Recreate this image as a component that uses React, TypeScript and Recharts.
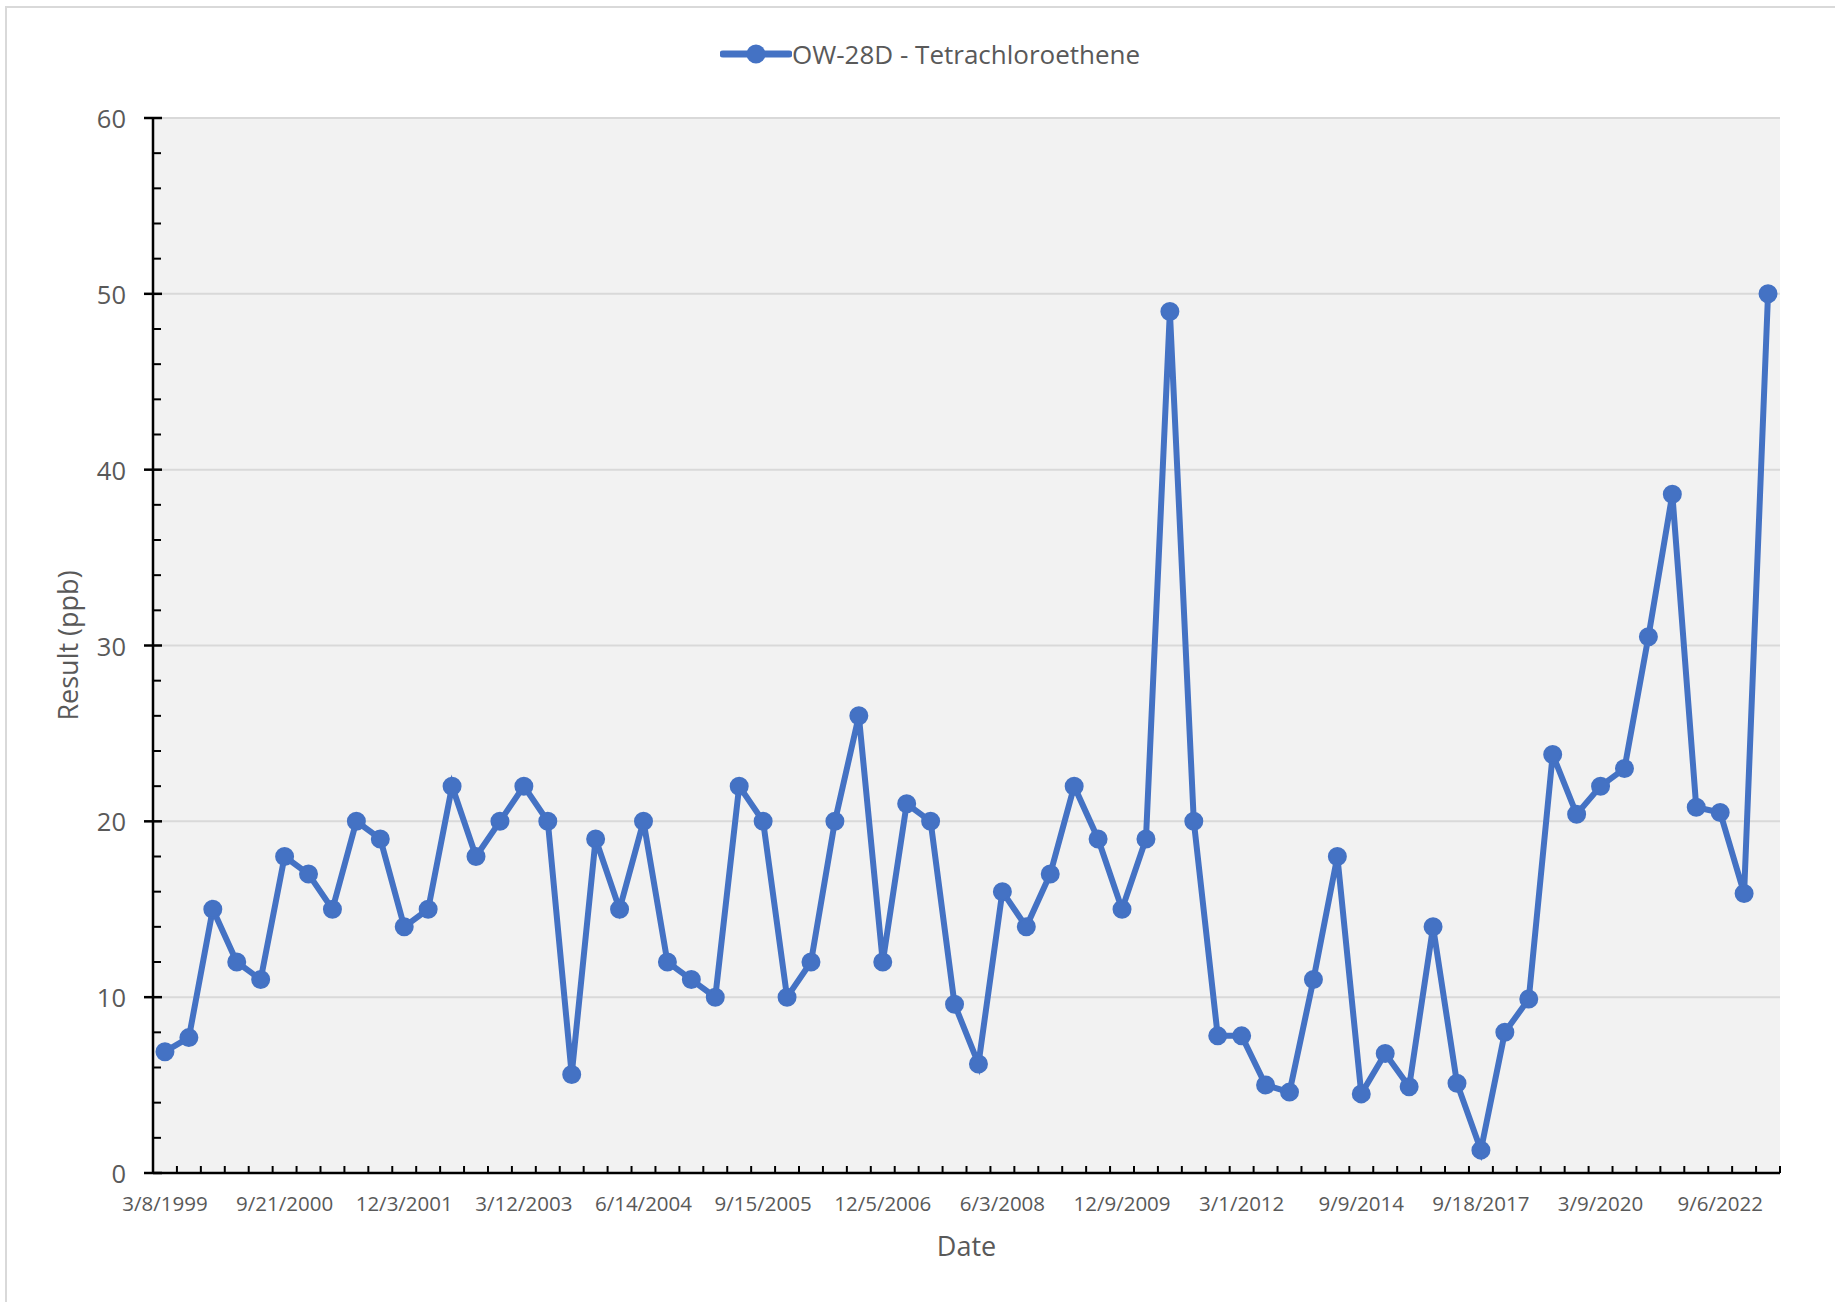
import React from 'react';
import { LineChart, Line, XAxis, YAxis, CartesianGrid, Legend } from 'recharts';

const seriesName = 'OW-28D - Tetrachloroethene';
const results = [
  6.9, 7.7, 15, 12, 11, 18, 17, 15, 20, 19,
  14, 15, 22, 18, 20, 22, 20, 5.6, 19, 15,
  20, 12, 11, 10, 22, 20, 10, 12, 20, 26,
  12, 21, 20, 9.6, 6.2, 16, 14, 17, 22, 19,
  15, 19, 49, 20, 7.8, 7.8, 5.0, 4.6, 11, 18,
  4.5, 6.8, 4.9, 14, 5.1, 1.3, 8.0, 9.9, 23.8, 20.4,
  22, 23, 30.5, 38.6, 20.8, 20.5, 15.9, 50,
];
const tickLabels = [
  '3/8/1999', '9/21/2000', '12/3/2001', '3/12/2003', '6/14/2004', '9/15/2005', '12/5/2006',
  '6/3/2008', '12/9/2009', '3/1/2012', '9/9/2014', '9/18/2017', '3/9/2020', '9/6/2022',
];
const labelEvery = 5;
const yTicks = [0, 2, 4, 6, 8, 10, 12, 14, 16, 18, 20, 22, 24, 26, 28, 30, 32, 34, 36, 38, 40, 42, 44, 46, 48, 50, 52, 54, 56, 58, 60];
const gridValues = [10, 20, 30, 40, 50, 60];

const data = results.map((v, i) => ({ idx: i, result: v }));

const FONT = '"Open Sans", sans-serif';
const TEXT = '#595959';
const BLUE = '#4472C4';
const W = 1835;
const H = 1302;
const PLOT_W = 1627;
const HALF = PLOT_W / results.length / 2;

const XTick = (props: any) => {
  const { x, y, payload } = props;
  const i = payload.value as number;
  return (
    <g>
      <line x1={x - HALF} x2={x - HALF} y1={y} y2={y - 7} stroke="#000" strokeWidth={2} />
      {i === results.length - 1 && (
        <line x1={x + HALF} x2={x + HALF} y1={y} y2={y - 7} stroke="#000" strokeWidth={2} />
      )}
      {i % labelEvery === 0 && (
        <text x={x} y={y + 30} textAnchor="middle" dominantBaseline="central" fontFamily={FONT} fontSize={20.5} fill={TEXT}>
          {tickLabels[i / labelEvery]}
        </text>
      )}
    </g>
  );
};

const YTick = (props: any) => {
  const { x, y, payload } = props;
  const v = payload.value as number;
  const major = v % 10 === 0;
  return (
    <g>
      {major ? (
        <line x1={x - 9} x2={x + 9} y1={y} y2={y} stroke="#000" strokeWidth={2.5} />
      ) : (
        <line x1={x} x2={x + 8} y1={y} y2={y} stroke="#000" strokeWidth={2} />
      )}
      {major && (
        <text x={x - 27} y={y} textAnchor="end" dominantBaseline="central" fontFamily={FONT} fontSize={25.5} fill={TEXT}>
          {v}
        </text>
      )}
    </g>
  );
};

const LegendContent = (props: any) => {
  const item = props.payload && props.payload[0];
  const name = item ? item.value : seriesName;
  return (
    <div style={{ display: 'flex', alignItems: 'center', whiteSpace: 'nowrap' }}>
      <svg width={72} height={24} style={{ display: 'block' }}>
        <line x1={3} x2={69} y1={12} y2={12} stroke={BLUE} strokeWidth={7} strokeLinecap="round" />
        <circle cx={36} cy={12} r={9.5} fill={BLUE} />
      </svg>
      <span style={{ fontFamily: FONT, fontSize: 26, color: TEXT, lineHeight: '36px' }}>{name}</span>
    </div>
  );
};

export default function App() {
  return (
    <div>
      <div
        style={{
          position: 'absolute',
          left: 5,
          top: 6,
          width: 1830,
          height: 1296,
          boxSizing: 'border-box',
          borderTop: '2px solid #d9d9d9',
          borderLeft: '2px solid #d9d9d9',
          background: '#fff',
        }}
      />
      <div style={{ position: 'absolute', left: 0, top: 0, width: W, height: H }}>
        <LineChart width={W} height={H} data={data} margin={{ top: 118, right: 55, bottom: 69, left: 33 }}>
          <CartesianGrid
            vertical={false}
            horizontalValues={gridValues}
            fill="#f2f2f2"
            stroke="#d9d9d9"
            strokeWidth={2}
          />
          <XAxis
            dataKey="idx"
            type="category"
            height={60}
            interval={0}
            padding={{ left: HALF, right: HALF }}
            tickSize={0}
            tickMargin={0}
            tickLine={false}
            tick={<XTick />}
            axisLine={{ stroke: '#000', strokeWidth: 2.5 }}
            label={{ value: 'Date', position: 'bottom', offset: 4, style: { fontFamily: FONT, fontSize: 27, fill: TEXT } }}
          />
          <YAxis
            type="number"
            domain={[0, 60]}
            ticks={yTicks}
            interval={0}
            width={120}
            tickSize={0}
            tickMargin={0}
            tickLine={false}
            tick={<YTick />}
            axisLine={{ stroke: '#000', strokeWidth: 2.5 }}
            label={{
              value: 'Result (ppb)',
              angle: -90,
              position: 'insideLeft',
              offset: 35,
              style: { textAnchor: 'middle', fontFamily: FONT, fontSize: 27, fill: TEXT },
            }}
          />
          <Legend
            layout="vertical"
            align="center"
            verticalAlign="middle"
            wrapperStyle={{ position: 'absolute', top: 36, left: 720, width: 500, height: 36 }}
            content={<LegendContent />}
          />
          <Line
            type="linear"
            dataKey="result"
            name={seriesName}
            stroke={BLUE}
            strokeWidth={6}
            dot={{ r: 8.5, fill: BLUE, stroke: BLUE, strokeWidth: 2 }}
            activeDot={false}
            isAnimationActive={false}
          />
        </LineChart>
      </div>
    </div>
  );
}
